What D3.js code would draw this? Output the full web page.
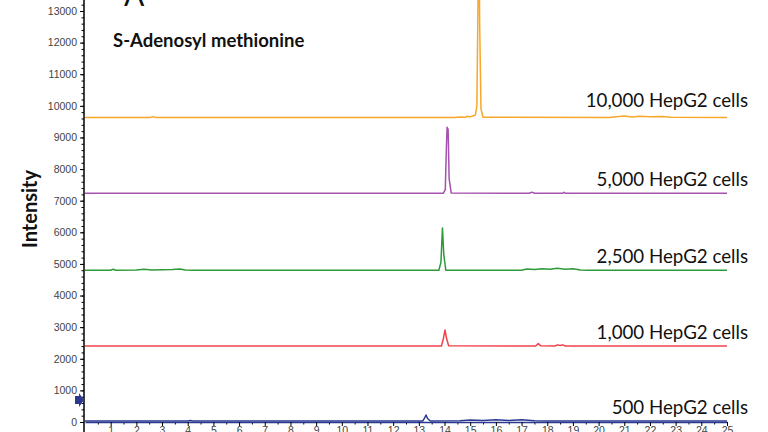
<!DOCTYPE html>
<html>
<head>
<meta charset="utf-8">
<script src="https://cdn.jsdelivr.net/npm/d3@7"></script>
<style>
  body { margin: 0; background: #fff; }
  svg { display: block; }
  .tick text { font-family: "Liberation Sans", Arial, sans-serif; font-size: 10.5px; fill: #444; }
</style>
</head>
<body>
<div id="chart"></div>
<script>
// chart size
const wide = 768;
const high = 432;

// traces: [retention time (min), intensity]
const trace500 = [[0,30],[4,32],[4.1,45],[4.2,30],[13.15,30],[13.22,120],[13.28,220],[13.34,110],[13.45,32],[14.6,40],[15.0,60],[15.5,48],[16.0,70],[16.5,50],[17.0,68],[17.5,42],[18,30],[25,30]];
const trace1000 = [[0,2405],[13.88,2405],[13.96,2650],[14.02,2910],[14.08,2640],[14.16,2410],[17.55,2405],[17.65,2480],[17.75,2410],[18.3,2405],[18.4,2440],[18.5,2420],[18.6,2440],[18.7,2405],[25,2405]];
const trace2500 = [[0,4800],[1,4800],[1.1,4830],[1.2,4800],[2.0,4810],[2.3,4830],[2.6,4805],[3.4,4820],[3.7,4840],[3.9,4810],[4.2,4800],[13.78,4800],[13.86,5050],[13.92,6140],[13.97,5300],[14.05,4800],[17.0,4800],[17.2,4840],[17.5,4820],[17.8,4850],[18.1,4830],[18.4,4860],[18.7,4830],[19.0,4850],[19.3,4810],[19.6,4800],[25,4800]];
const trace5000 = [[0,7235],[13.95,7235],[14.03,7350],[14.07,8600],[14.1,9320],[14.14,9260],[14.18,7700],[14.26,7240],[17.3,7235],[17.4,7270],[17.5,7235],[18.6,7235],[18.65,7265],[18.7,7235],[25,7235]];
const trace10000 = [[0,9630],[2.55,9630],[2.65,9660],[2.75,9630],[14.4,9630],[14.6,9650],[14.8,9640],[14.9,9670],[15.0,9650],[15.1,9680],[15.2,9710],[15.26,10000],[15.3,13000],[15.33,16500],[15.37,12500],[15.42,9900],[15.5,9640],[20.4,9630],[20.7,9655],[21.0,9680],[21.3,9650],[21.6,9670],[22.0,9655],[22.5,9665],[22.8,9640],[25,9630]];

const traces = [trace500, trace1000, trace2500, trace5000, trace10000];
const baselines = [30, 2405, 4800, 7235, 9630];
const labels = ["500 HepG2 cells", "1,000 HepG2 cells", "2,500 HepG2 cells", "5,000 HepG2 cells", "10,000 HepG2 cells"];
const colors = ["#2b3990", "#f0434b", "#2e9a3a", "#a452ad", "#f7a82a"];

const xTicks = d3.range(1, 26);
const yTicks = d3.range(0, 14000, 1000);

// scales
const x = d3.scaleLinear().domain([0, 25]).range([85, 727]);
const y = d3.scaleLinear().domain([0, 13000]).range([422, 11]);

const svg = d3.select("#chart").append("svg")
  .attr("width", wide)
  .attr("height", high);

// minor ticks
svg.append("g")
  .attr("transform", "translate(84,0)")
  .call(d3.axisLeft(y).tickValues(d3.range(0, 13400, 200)).tickSize(2.5).tickFormat(""))
  .call(g => g.select(".domain").remove());
svg.append("g")
  .attr("transform", "translate(0,422)")
  .call(d3.axisBottom(x).tickValues(d3.range(0.5, 25, 1)).tickSize(2.5).tickFormat(""))
  .call(g => g.select(".domain").remove());

// y axis
svg.append("g")
  .attr("transform", "translate(84,0)")
  .call(d3.axisLeft(y).tickValues(yTicks).tickSize(4).tickPadding(3).tickSizeOuter(0).tickFormat(d3.format("d")))
  .call(g => g.select(".domain").attr("d", "M0,432V0").attr("stroke-width", 1.5));

// x axis
svg.append("g")
  .attr("transform", "translate(0,422)")
  .call(d3.axisBottom(x).tickValues(xTicks).tickSize(4).tickPadding(1).tickSizeOuter(0))
  .call(g => g.select(".domain").attr("stroke", "#2b3990").attr("stroke-width", 1.5));

// traces
const line = d3.line().x(d => x(d[0])).y(d => y(d[1]));
traces.forEach((t, i) => {
  svg.append("path")
    .datum(t)
    .attr("fill", "none")
    .attr("stroke", colors[i])
    .attr("stroke-width", 1.5)
    .attr("stroke-linejoin", "round")
    .attr("d", line);

  svg.append("text")
    .attr("x", 748)
    .attr("y", y(baselines[i]) - (i === 4 ? 11 : 7))
    .attr("text-anchor", "end")
    .style("font-family", "Lato, sans-serif")
    .style("font-size", "18.7px")
    .style("fill", "#111")
    .text(labels[i]);
});

// marker arrow on y axis
svg.append("path")
  .attr("d", "M75,396 h4 v-3 l5,7 l-5,7 v-3 h-4 z")
  .attr("fill", "#2b3990");

// titles
svg.append("text")
  .attr("x", 124)
  .attr("y", 6)
  .style("font-family", "Lato, sans-serif")
  .style("font-size", "30px")
  .style("fill", "#111")
  .text("A");

svg.append("text")
  .attr("x", 113)
  .attr("y", 47)
  .style("font-family", "Lato, sans-serif")
  .style("font-weight", "bold")
  .style("font-size", "18.5px")
  .style("fill", "#111")
  .text("S-Adenosyl methionine");

svg.append("text")
  .attr("transform", "translate(37,209) rotate(-90)")
  .attr("text-anchor", "middle")
  .style("font-family", "Lato, sans-serif")
  .style("font-weight", "bold")
  .style("font-size", "20px")
  .style("fill", "#111")
  .text("Intensity");
</script>
</body>
</html>
